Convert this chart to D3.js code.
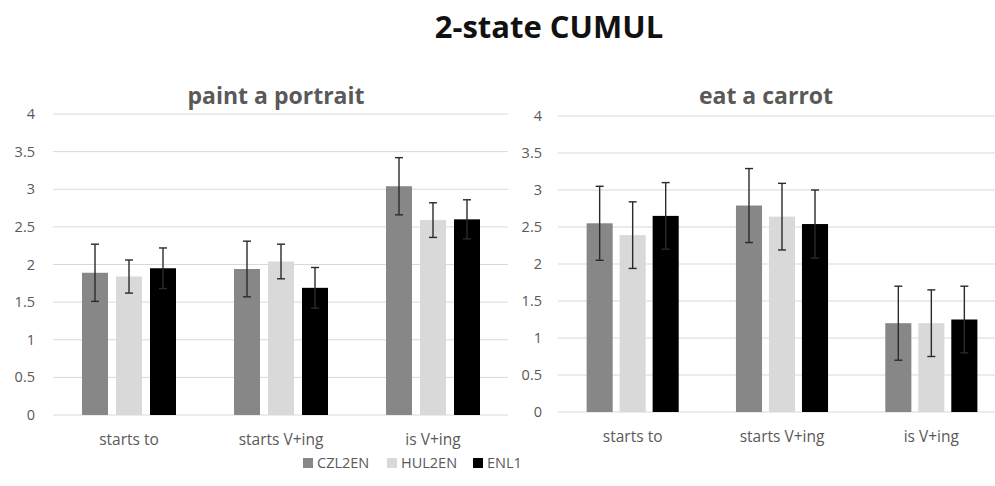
<!DOCTYPE html>
<html>
<head>
<meta charset="utf-8">
<script src="https://cdn.jsdelivr.net/npm/d3@7"></script>
<style>
  body { margin: 0; background: #fff; }
  text { font-family: "Open Sans", "Liberation Sans", sans-serif; }
</style>
</head>
<body>
<div id="chart"></div>
<script>
var width = 995
var height = 486

var categories = ['starts to', 'starts V+ing', 'is V+ing']
var series = ['CZL2EN', 'HUL2EN', 'ENL1']
var colors = ['#878787', '#d9d9d9', '#000000']
var yTicks = [0, 0.5, 1, 1.5, 2, 2.5, 3, 3.5, 4]

// paint a portrait: means and error half-widths per series
var portraitCZL = [1.89, 1.94, 3.04]
var portraitHUL = [1.84, 2.04, 2.59]
var portraitENL = [1.95, 1.69, 2.60]
var portraitCZLErr = [0.38, 0.37, 0.38]
var portraitHULErr = [0.22, 0.23, 0.23]
var portraitENLErr = [0.27, 0.27, 0.26]

// eat a carrot
var carrotCZL = [2.55, 2.79, 1.20]
var carrotHUL = [2.39, 2.64, 1.20]
var carrotENL = [2.65, 2.54, 1.25]
var carrotCZLErr = [0.50, 0.50, 0.50]
var carrotHULErr = [0.45, 0.45, 0.45]
var carrotENLErr = [0.45, 0.46, 0.45]

var panels = [
    { title: 'paint a portrait', titleX: 276,
      means: [portraitCZL, portraitHUL, portraitENL],
      errs: [portraitCZLErr, portraitHULErr, portraitENLErr],
      x0: 53, x1: 509, gridEnd: 508, y0: 415, y1: 114, labelX: 35,
      inner: 0.235, outer: 0.853 },
    { title: 'eat a carrot', titleX: 766,
      means: [carrotCZL, carrotHUL, carrotENL],
      errs: [carrotCZLErr, carrotHULErr, carrotENLErr],
      x0: 558, x1: 1006, gridEnd: 995, y0: 412, y1: 116, labelX: 542,
      inner: 0.21, outer: 0.867 }
]

var svg = d3.select('#chart').append('svg')
    .attr('width', width)
    .attr('height', height)

svg.append('text')
    .attr('x', 549)
    .attr('y', 38)
    .attr('text-anchor', 'middle')
    .style('font-size', '31px')
    .style('font-weight', 'bold')
    .style('fill', '#111')
    .text('2-state CUMUL')

panels.forEach(function(p) {
    var g = svg.append('g')

    var x = d3.scaleBand().domain(categories).range([p.x0, p.x1])
    var xs = d3.scaleBand().domain(series).range([0, x.bandwidth()])
        .paddingInner(p.inner).paddingOuter(p.outer)
    var y = d3.scaleLinear().domain([0, 4]).range([p.y0, p.y1])

    g.append('text')
        .attr('x', p.titleX)
        .attr('y', 104)
        .attr('text-anchor', 'middle')
        .style('font-size', '23px')
        .style('font-weight', 'bold')
        .style('fill', '#595959')
        .text(p.title)

    g.selectAll('.grid').data(yTicks).enter().append('line')
        .attr('class', 'grid')
        .attr('x1', p.x0)
        .attr('x2', p.gridEnd)
        .attr('y1', function(d) { return y(d) })
        .attr('y2', function(d) { return y(d) })
        .attr('stroke', '#d9d9d9')
        .attr('stroke-width', 1)

    g.selectAll('.ylab').data(yTicks).enter().append('text')
        .attr('class', 'ylab')
        .attr('x', p.labelX)
        .attr('y', function(d) { return y(d) })
        .attr('dy', '0.35em')
        .attr('text-anchor', 'end')
        .style('font-size', '14.5px')
        .style('fill', '#595959')
        .text(function(d) { return d })

    g.selectAll('.xlab').data(categories).enter().append('text')
        .attr('class', 'xlab')
        .attr('x', function(d) { return x(d) + x.bandwidth() / 2 })
        .attr('y', p.y0 + 30)
        .attr('text-anchor', 'middle')
        .style('font-size', '15.5px')
        .style('fill', '#595959')
        .text(function(d) { return d })

    var rows = []
    series.forEach(function(s, si) {
        categories.forEach(function(c, ci) {
            rows.push({ cat: c, ser: s, color: colors[si],
                value: p.means[si][ci], err: p.errs[si][ci] })
        })
    })

    g.selectAll('.bar').data(rows).enter().append('rect')
        .attr('class', 'bar')
        .attr('x', function(d) { return x(d.cat) + xs(d.ser) })
        .attr('width', xs.bandwidth())
        .attr('y', function(d) { return y(d.value) })
        .attr('height', function(d) { return y(0) - y(d.value) })
        .attr('fill', function(d) { return d.color })

    var eb = g.selectAll('.err').data(rows).enter().append('g')
        .attr('class', 'err')
        .attr('transform', function(d) {
            return 'translate(' + (x(d.cat) + xs(d.ser) + xs.bandwidth() / 2) + ',0)' })
        .attr('stroke', '#2a2a2a')
        .attr('stroke-width', 1.4)

    eb.append('line')
        .attr('y1', function(d) { return y(d.value - d.err) })
        .attr('y2', function(d) { return y(d.value + d.err) })
    eb.append('line')
        .attr('x1', -4).attr('x2', 4)
        .attr('y1', function(d) { return y(d.value + d.err) })
        .attr('y2', function(d) { return y(d.value + d.err) })
    eb.append('line')
        .attr('x1', -4).attr('x2', 4)
        .attr('y1', function(d) { return y(d.value - d.err) })
        .attr('y2', function(d) { return y(d.value - d.err) })
})

// legend
var legendX = [303, 387, 473]
var legend = svg.selectAll('.legend').data(series).enter().append('g')
    .attr('class', 'legend')
    .attr('transform', function(d, i) { return 'translate(' + legendX[i] + ',463)' })

legend.append('rect')
    .attr('x', 0).attr('y', -5)
    .attr('width', 10).attr('height', 10)
    .attr('fill', function(d, i) { return colors[i] })

legend.append('text')
    .attr('x', 14)
    .attr('dy', '0.35em')
    .style('font-size', '14.5px')
    .style('fill', '#595959')
    .text(function(d) { return d })
</script>
</body>
</html>
